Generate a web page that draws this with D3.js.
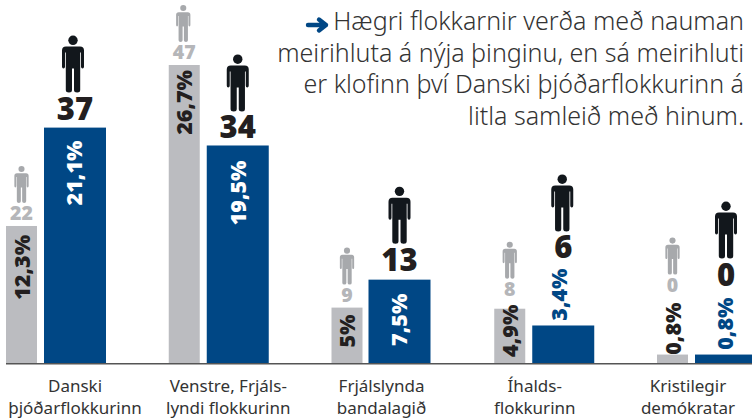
<!DOCTYPE html>
<html><head><meta charset="utf-8">
<script src="https://cdnjs.cloudflare.com/ajax/libs/d3/7.8.5/d3.min.js"></script>
<style>html,body{margin:0;padding:0;background:#fff;overflow:hidden}svg{display:block}</style>
</head><body><div id="c"></div>
<script>
const categories=[["Danski","þjóðarflokkurinn"],["Venstre, Frjáls-","lyndi flokkurinn"],["Frjálslynda","bandalagið"],["Íhalds-","flokkurinn"],["Kristilegir","demókratar"]];
const prevPct=[12.3,26.7,5,4.9,0.8];
const newPct=[21.1,19.5,7.5,3.4,0.8];
const prevPctLabels=["12,3%","26,7%","5%","4,9%","0,8%"];
const newPctLabels=["21,1%","19,5%","7,5%","3,4%","0,8%"];
const prevSeats=[22,47,9,8,0];
const newSeats=[37,34,13,6,0];
const headline=["Hægri flokkarnir verða með nauman","meirihluta á nýja þinginu, en sá meirihluti","er klofinn því Danski þjóðarflokkurinn á","litla samleið með hinum."];

const W=752,H=420,base=363.5;
const FONT='"Noto Sans",sans-serif';
const y=d3.scaleLinear().domain([0,30]).range([base,base-335.4]);
const xGroup=d3.scaleBand().domain(d3.range(5)).range([6,6+5*162.75]);
const xLabel=d3.scalePoint().domain(d3.range(5)).range([75,688]);
const svg=d3.select("#c").append("svg").attr("width",W).attr("height",H);

// per-mark label nudges relative to bar top
const series=[
 {vals:prevPct,labs:prevPctLabels,seats:prevSeats,dx:[0,0,0,0,0],w:31,bar:"#bbbcc0",numC:"#b5b6b9",iconC:"#a7a9ac",iconH:37,numS:19.5,
  labOff:[9,5,7,-4,-52],labX:[8,8,8,8,8],labC:["#231f20","#231f20","#231f20","#231f20","#231f20"],numOff:[6,6,6,13,63],iconGap:17,ix:[0,-1,0,0,0]},
 {vals:newPct,labs:newPctLabels,seats:newSeats,dx:[38,38,37,38,38],w:62,bar:"#004785",numC:"#231f20",iconC:"#12171c",iconH:57,numS:31,
  labOff:[13,15,14,-57,-57],labX:[7,8,7,4,7],labC:["#fff","#fff","#fff","#004785","#004785"],numOff:[8,7,9,67,69],iconGap:27,ix:[-2,0,0,-1,0]}
];

function person(g,cx,bottom,h,color){
  const s=h/57;
  const p=g.append("g").attr("transform",`translate(${cx-11*s},${bottom-h}) scale(${s})`).attr("fill",color);
  p.append("circle").attr("cx",11).attr("cy",4.7).attr("r",4.7);
  p.append("path").attr("d","M4 11 H18 Q22 11 22 15 V31 Q22 33 20.5 33 Q19 33 19 31 V17 H18.2 V54.5 Q18.2 57 15.2 57 Q12 57 12 54.5 V33 H10 V54.5 Q10 57 7 57 Q3.8 57 3.8 54.5 V17 H3 V31 Q3 33 1.5 33 Q0 33 0 31 V15 Q0 11 4 11 Z");
}

series.forEach(s=>{
  const g=svg.append("g");
  s.vals.forEach((v,i)=>{
    const x0=xGroup(i)+s.dx[i], top=y(v), cx=x0+s.w/2;
    g.append("rect").attr("x",x0).attr("y",top).attr("width",s.w).attr("height",base-top).attr("fill",s.bar);
    g.append("text").attr("transform",`translate(${cx+s.labX[i]},${top+s.labOff[i]}) rotate(-90)`)
      .attr("text-anchor","end").attr("font-family",FONT).attr("font-weight",900).attr("font-size",21.5)
      .attr("fill",s.labC[i]).text(s.labs[i]);
    const nb=top-s.numOff[i];
    g.append("text").attr("x",cx).attr("y",nb).attr("text-anchor","middle").attr("font-family",FONT)
      .attr("font-weight",900).attr("font-size",s.numS).attr("fill",s.numC).text(s.seats[i]);
    person(g,cx+s.ix[i],nb-s.iconGap,s.iconH,s.iconC);
  });
});

svg.append("line").attr("x1",6).attr("x2",W).attr("y1",base+0.3).attr("y2",base+0.3).attr("stroke","#555").attr("stroke-width",1.4);

categories.forEach((c,i)=>{
  c.forEach((t,j)=>svg.append("text").attr("x",xLabel(i)).attr("y",392+j*21.5).attr("text-anchor","middle")
    .attr("font-family",FONT).attr("font-size",17).attr("fill","#333").text(t));
});

headline.forEach((t,i)=>svg.append("text").attr("x",744).attr("y",30+i*31.7).attr("text-anchor","end")
  .attr("font-family",FONT).attr("font-weight",300).attr("font-size",25).attr("fill","#333").text(t));
svg.append("path").attr("d","M308 25 H326 M319 19.5 L326 25 L319 30.5").attr("fill","none")
  .attr("stroke","#004785").attr("stroke-width",4.4).attr("stroke-linecap","round").attr("stroke-linejoin","round");
</script></body></html>
